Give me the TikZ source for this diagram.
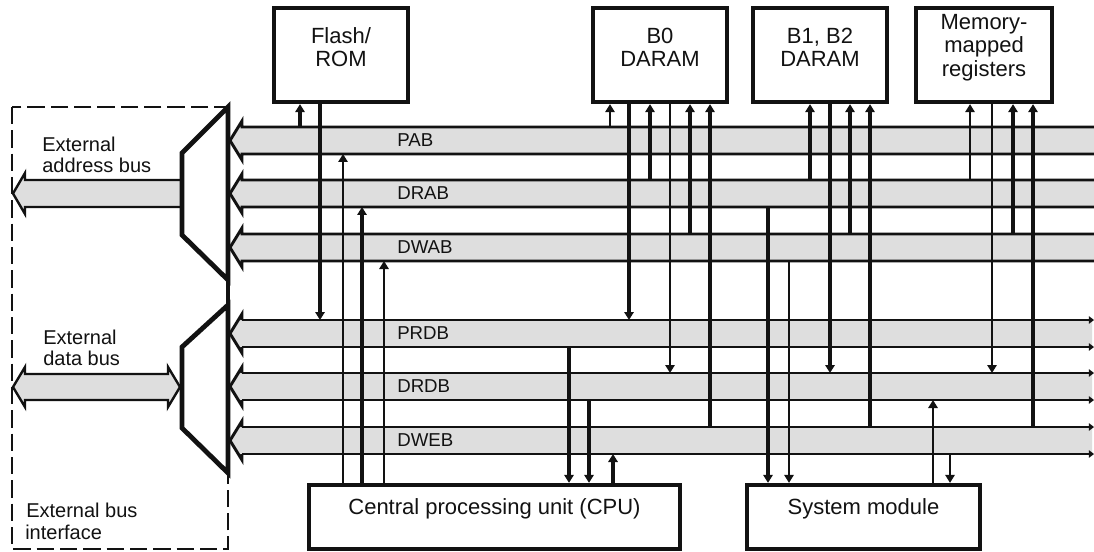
\documentclass[tikz,border=0pt]{standalone}
\usepackage{fontspec}
\setmainfont{Liberation Sans}
\usetikzlibrary{arrows.meta,fit}
\definecolor{busgray}{RGB}{222,222,222}
\definecolor{inkc}{RGB}{18,18,18}
\begin{document}
\begin{tikzpicture}[x=0.75pt,y=-0.75pt,
  box/.style={draw=inkc, line width=3.2pt, inner sep=0pt, align=center,
    font=\fontsize{16.5}{17.5}\selectfont, text=inkc},
  busedge/.style={draw=inkc, line width=2.2pt, line join=miter},
  extedge/.style={draw=inkc, line width=1.8pt, line join=miter},
  thickc/.style={draw=inkc, line width=2.4pt},
  thinc/.style={draw=inkc, line width=1.4pt},
  arrowtip/.style={-{Triangle[length=6pt,width=7pt]}},
  endtip/.style={-{Triangle[length=3.8pt,width=5.5pt]}},
  buslabel/.style={anchor=west, inner sep=0pt, font=\fontsize{14}{16}\selectfont, text=inkc},
  extlabel/.style={anchor=base west, inner sep=0pt, font=\fontsize{15}{16}\selectfont, text=inkc},
  mux/.style={draw=inkc, fill=white, line width=3.6pt, line join=miter},
  busfit/.style={inner sep=0pt, outer sep=0pt},
]
\useasboundingbox (0,0) rectangle (1094,552);
\fill[white] (0,0) rectangle (1094,552);

% external bus interface (dashed)
\draw[inkc, line width=2.2pt, dash pattern=on 13pt off 4.5pt] (12,107) rectangle (228,549);

% external address bus
\fill[busgray] (182,180) -- (25,180) -- (25,173) -- (13,193.5) -- (25,214) -- (25,207) -- (182,207) -- cycle;
\draw[extedge] (182,180) -- (25,180) -- (25,173) -- (13,193.5) -- (25,214) -- (25,207) -- (182,207);
% external data bus
\filldraw[extedge, fill=busgray] (168,374) -- (25,374) -- (25,367) -- (13,387) -- (25,407) -- (25,400)
  -- (168,400) -- (168,407) -- (180,387) -- (168,367) -- cycle;

% address buses
\foreach \nm/\yt/\yb in {PAB/127/154,DRAB/180/207,DWAB/234/261}{
  \fill[busgray] (1094,\yt) -- (242,\yt) -- (242,{\yt-6}) -- (230,{(\yt+\yb)/2}) -- (242,{\yb+6}) -- (242,\yb) -- (1094,\yb) -- cycle;
  \draw[busedge] (1094,\yt) -- (242,\yt) -- (242,{\yt-6}) -- (230,{(\yt+\yb)/2}) -- (242,{\yb+6}) -- (242,\yb) -- (1094,\yb);
  \node[busfit, fit={(242,\yt)(1094,\yb)}] (\nm) {};
  \node[buslabel] (\nm-lbl) at (397,{(\yt+\yb)/2}) {\nm};
}
% data buses
\foreach \nm/\yt/\yb in {PRDB/320/347,DRDB/373/400,DWEB/427/454}{
  \fill[busgray] (1092,\yt) -- (242,\yt) -- (242,{\yt-6}) -- (230,{(\yt+\yb)/2}) -- (242,{\yb+6}) -- (242,\yb) -- (1092,\yb) -- cycle;
  \draw[busedge] (242,\yt) -- (242,{\yt-6}) -- (230,{(\yt+\yb)/2}) -- (242,{\yb+6}) -- (242,\yb);
  \draw[busedge, endtip] (242,\yt) -- (1094,\yt);
  \draw[busedge, endtip] (242,\yb) -- (1094,\yb);
  \node[busfit, fit={(242,\yt)(1094,\yb)}] (\nm) {};
  \node[buslabel] (\nm-lbl) at (397,{(\yt+\yb)/2}) {\nm};
}

% multiplexers
\filldraw[mux] (228,107) -- (182,153) -- (182,235) -- (228,280) -- cycle;
\filldraw[mux] (228,305) -- (182,347) -- (182,428) -- (228,473) -- cycle;
\draw[inkc, line width=3.6pt] (228,107) -- (228,473);

% boxes
\node[box, fit={(274,8)(408,102)}] (flash) {Flash/\\ROM};
\node[box, fit={(593,8)(727,102)}] (b0) {B0\\DARAM};
\node[box, fit={(753,8)(887,102)}] (b12) {B1, B2\\DARAM};
\node[box, fit={(916,8)(1052,102)}] (mmr) {Memory-\\mapped\\registers};
\node[box, fit={(309,485)(680,549)}] (cpu) {Central processing unit (CPU)};
\node[box, fit={(747,485)(980,549)}] (sysmod) {System module};

% Flash/ROM
\draw[thickc, arrowtip] (300,0 |- PAB.north) -- (300,0 |- flash.south);
\draw[thickc, arrowtip] (320,0 |- flash.south) -- (320,0 |- PRDB.north);
% CPU
\draw[thinc, arrowtip] (343,0 |- cpu.north) -- (343,0 |- PAB.south);
\draw[thickc, arrowtip] (362,0 |- cpu.north) -- (362,0 |- DRAB.south);
\draw[thinc, arrowtip] (384,0 |- cpu.north) -- (384,0 |- DWAB.south);
\draw[thickc, arrowtip] (569,0 |- PRDB.south) -- (569,0 |- cpu.north);
\draw[thickc, arrowtip] (589,0 |- DRDB.south) -- (589,0 |- cpu.north);
\draw[thickc, arrowtip] (613,0 |- cpu.north) -- (613,0 |- DWEB.south);
% B0 DARAM
\draw[thinc, arrowtip] (610,0 |- PAB.north) -- (610,0 |- b0.south);
\draw[thickc, arrowtip] (629,0 |- b0.south) -- (629,0 |- PRDB.north);
\draw[thickc, arrowtip] (650,0 |- DRAB.north) -- (650,0 |- b0.south);
\draw[thinc, arrowtip] (670,0 |- b0.south) -- (670,0 |- DRDB.north);
\draw[thickc, arrowtip] (690,0 |- DWAB.north) -- (690,0 |- b0.south);
\draw[thickc, arrowtip] (710,0 |- DWEB.north) -- (710,0 |- b0.south);
% System module
\draw[thickc, arrowtip] (768,0 |- DRAB.south) -- (768,0 |- sysmod.north);
\draw[thinc, arrowtip] (789,0 |- DWAB.south) -- (789,0 |- sysmod.north);
\draw[thinc, arrowtip] (933,0 |- sysmod.north) -- (933,0 |- DRDB.south);
\draw[thinc, arrowtip] (950,0 |- DWEB.south) -- (950,0 |- sysmod.north);
% B1, B2 DARAM
\draw[thickc, arrowtip] (810,0 |- DRAB.north) -- (810,0 |- b12.south);
\draw[thickc, arrowtip] (830,0 |- b12.south) -- (830,0 |- DRDB.north);
\draw[thickc, arrowtip] (850,0 |- DWAB.north) -- (850,0 |- b12.south);
\draw[thickc, arrowtip] (870,0 |- DWEB.north) -- (870,0 |- b12.south);
% Memory-mapped registers
\draw[thinc, arrowtip] (970,0 |- DRAB.north) -- (970,0 |- mmr.south);
\draw[thinc, arrowtip] (992,0 |- mmr.south) -- (992,0 |- DRDB.north);
\draw[thickc, arrowtip] (1013,0 |- DWAB.north) -- (1013,0 |- mmr.south);
\draw[thickc, arrowtip] (1033,0 |- DWEB.north) -- (1033,0 |- mmr.south);

% labels
\node[extlabel] (ea1) at (42,152) {External};
\node[extlabel] (ea2) at (42,173) {address bus};
\node[extlabel] (ed1) at (43,344) {External};
\node[extlabel] (ed2) at (43,365) {data bus};
\node[extlabel] (ei1) at (26,517) {External bus};
\node[extlabel] (ei2) at (25,539) {interface};
\end{tikzpicture}
\end{document}
